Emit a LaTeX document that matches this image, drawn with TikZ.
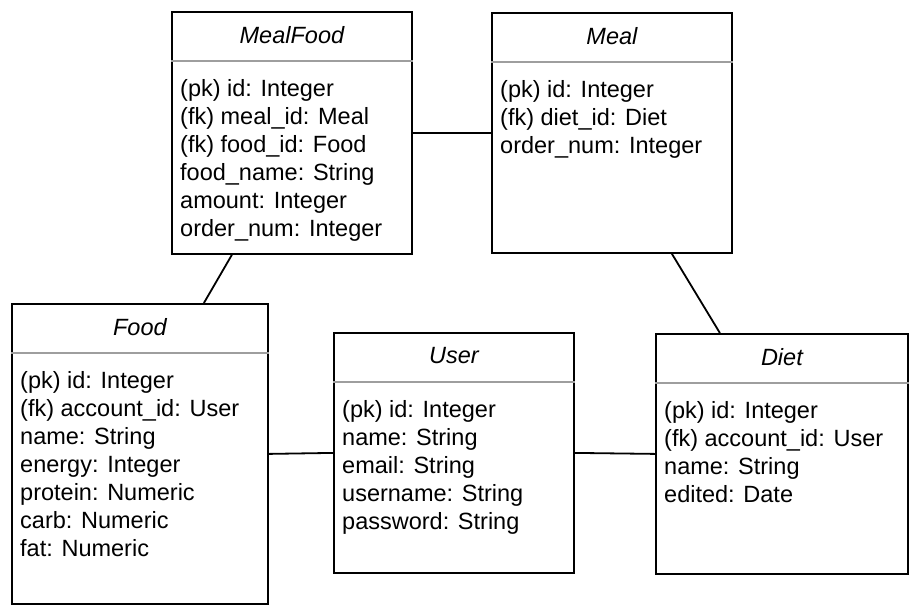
\documentclass[tikz,border=0pt]{standalone}
\usepackage{fontspec}
\setmainfont{Liberation Sans}
\tikzset{
  umlbox/.style={draw=black, line width=1.8pt, inner sep=0pt, fill=white},
  sepline/.style={draw=black!38, line width=1.6pt},
  titletext/.style={inner sep=0pt, font=\fontsize{23.5}{28}\selectfont\itshape},
  attrtext/.style={inner sep=0pt, font=\fontsize{23.5}{28}\selectfont},
  conn/.style={draw=black, line width=1.8pt}
}
\newcommand\umlentity[7]{%
  \node[umlbox, minimum width=#4pt, minimum height=#5pt, anchor=north west] (#1) at (#2,#3) {};
  \draw[sepline] ([yshift=-50pt]#1.north west) -- ([yshift=-50pt]#1.north east);
  \node[titletext] (#1-t) at ([yshift=-24pt]#1.north) {#6};
  \foreach \l [count=\i] in {#7} {
    \node[attrtext, anchor=base west] (#1-\i) at ([xshift=9pt,yshift={-85pt-28pt*(\i-1)}]#1.north west) {\l};
  }%
}
\begin{document}
\begin{tikzpicture}[x=1pt,y=-1pt]
\useasboundingbox (0,0) rectangle (918,614);
\umlentity{mf}{171}{11}{240}{242}{MealFood}{(pk) id: Integer,(fk) meal\_id: Meal,(fk) food\_id: Food,food\_name: String,amount: Integer,order\_num: Integer}
\umlentity{m}{491}{12}{240}{240}{Meal}{(pk) id: Integer,(fk) diet\_id: Diet,order\_num: Integer}
\umlentity{fd}{11}{303}{256}{300}{Food}{(pk) id: Integer,(fk) account\_id: User,name: String,energy: Integer,protein: Numeric,carb: Numeric,fat: Numeric}
\umlentity{u}{333}{332}{240}{240}{User}{(pk) id: Integer,name: String,email: String,username: String,password: String}
\umlentity{d}{655}{333}{252}{240}{Diet}{(pk) id: Integer,(fk) account\_id: User,name: String,edited: Date}
\draw[conn] (mf.east) -- (m.west);
\draw[conn] ([xshift=-60pt]mf.south) -- ([xshift=64pt]fd.north);
\draw[conn] ([xshift=60pt]m.south) -- ([xshift=-62pt]d.north);
\draw[conn] (fd.east) -- (u.west);
\draw[conn] (u.east) -- (d.west);
\end{tikzpicture}
\end{document}
